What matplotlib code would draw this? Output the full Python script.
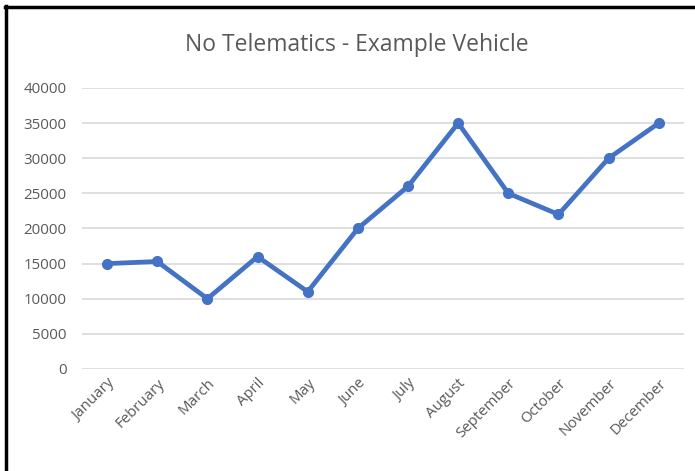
"""Line chart: monthly values for the no-telematics example vehicle."""

import matplotlib

matplotlib.use("Agg")
import matplotlib.pyplot as plt
from matplotlib.lines import Line2D


MONTHS = [
    "January", "February", "March", "April", "May", "June",
    "July", "August", "September", "October", "November", "December",
]
VALUES = [15000, 15300, 10000, 16000, 11000, 20000,
          26000, 35000, 25000, 22000, 30000, 35000]
Y_TICKS = list(range(0, 40001, 5000))

LINE_BLUE = "#4472C4"
TEXT_GREY = "#595959"
GRID_GREY = "#D9D9D9"

plt.rcParams["font.family"] = ["Open Sans", "DejaVu Sans"]

fig = plt.figure(figsize=(6.95, 4.71), dpi=100)
ax = fig.add_axes([0.118, 0.2166, 0.866, 0.5966])

x = range(len(MONTHS))
ax.plot(x, VALUES, color=LINE_BLUE, linewidth=3.4, marker="o",
        markersize=7, solid_capstyle="round", zorder=3)

ax.set_xlim(-0.5, len(MONTHS) - 0.5)
ax.set_ylim(0, 40000)
ax.set_yticks(Y_TICKS)
ax.set_yticklabels([str(v) for v in Y_TICKS])
ax.set_xticks(list(x))
ax.set_xticklabels(MONTHS, rotation=45, ha="right", rotation_mode="anchor")

ax.grid(axis="y", color=GRID_GREY, linewidth=1.2)
ax.set_axisbelow(True)
for side in ("top", "right", "left", "bottom"):
    ax.spines[side].set_visible(False)
ax.tick_params(axis="both", length=0, colors=TEXT_GREY, labelsize=10.8)
ax.tick_params(axis="y", pad=11)
ax.tick_params(axis="x", pad=5)

fig.text(0.514, 0.905, "No Telematics - Example Vehicle", ha="center",
         va="center", fontsize=16.5, color=TEXT_GREY)

# black frame on the left and top, as in the screenshot
fig.add_artist(Line2D([0.009, 0.009], [0, 0.988], color="black",
                      linewidth=2.5, transform=fig.transFigure))
fig.add_artist(Line2D([0.007, 1.0], [0.986, 0.986], color="black",
                      linewidth=2.5, transform=fig.transFigure))

fig.savefig("out.png", dpi=100)
